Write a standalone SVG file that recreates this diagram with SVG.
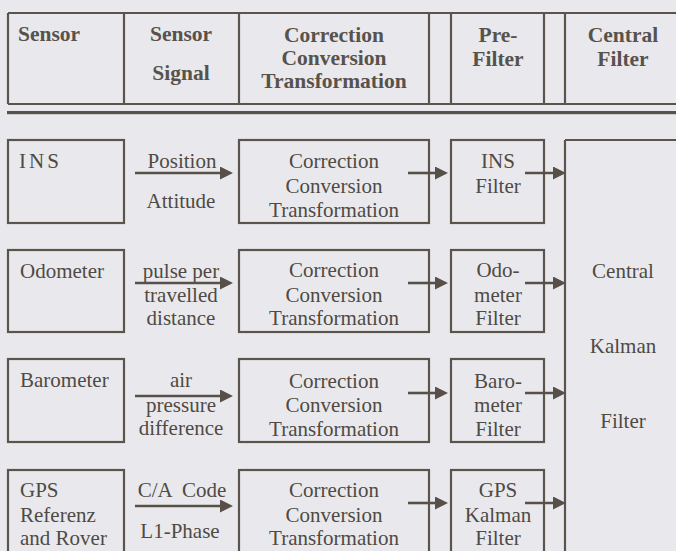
<svg xmlns="http://www.w3.org/2000/svg" width="676" height="551" viewBox="0 0 676 551">
<defs>
<marker id="ah" markerUnits="userSpaceOnUse" markerWidth="14" markerHeight="13" refX="5" refY="6.5" orient="auto">
<path d="M0,0 L13,6.5 L0,13 z" fill="#575049"/>
</marker>
<style>
.bx{fill:none;stroke:#5a544d;stroke-width:2.2}
.ln{stroke:#5a544d;stroke-width:2.2;fill:none}
.ar{stroke:#575049;stroke-width:2.6;fill:none;marker-end:url(#ah)}
.h{font-family:"Liberation Serif","Times New Roman",serif;font-weight:bold;font-size:21.5px;fill:#57524c;text-anchor:middle}
.t{font-family:"Liberation Serif","Times New Roman",serif;font-size:21px;fill:#4f4a44}
.c{text-anchor:middle}
</style>
</defs>
<rect width="676" height="551" fill="#e9e9ed"/>

<g id="header">
<path class="ln" d="M8,13 H680 M8,104 H680 M8,13 V104 M124,13 V104 M239,13 V104 M429,13 V104 M451,13 V104 M544,13 V104 M565,13 V104"/>
<rect x="7" y="111" width="675" height="3.2" fill="#57524c"/>
<text class="h" x="18" y="41" style="text-anchor:start">Sensor</text>
<text class="h" x="181" y="41">Sensor</text>
<text class="h" x="181" y="80">Signal</text>
<text class="h" x="334" y="42">Correction</text>
<text class="h" x="334" y="65">Conversion</text>
<text class="h" x="334" y="88">Transformation</text>
<text class="h" x="498" y="42">Pre-</text>
<text class="h" x="498" y="66">Filter</text>
<text class="h" x="623" y="42">Central</text>
<text class="h" x="623" y="66">Filter</text>
</g>

<g id="ins">
<rect class="bx" x="8" y="140" width="116" height="83"/>
<text class="t" x="19" y="168" letter-spacing="3">INS</text>
</g>
<g id="ins-signal">
<text class="t c" x="182" y="168">Position</text>
<text class="t c" x="181" y="208">Attitude</text>
</g>
<g id="ins-correction">
<rect class="bx" x="239" y="140" width="190" height="83"/>
<text class="t c" x="334" y="168">Correction</text>
<text class="t c" x="334" y="193">Conversion</text>
<text class="t c" x="334" y="217">Transformation</text>
</g>
<g id="ins-filter">
<rect class="bx" x="451" y="140" width="93" height="83"/>
<text class="t c" x="498" y="168">INS</text>
<text class="t c" x="498" y="193">Filter</text>
</g>

<g id="odometer">
<rect class="bx" x="8" y="250" width="116" height="82"/>
<text class="t" x="20" y="278">Odometer</text>
</g>
<g id="odometer-signal">
<text class="t c" x="181" y="278">pulse per</text>
<text class="t c" x="181" y="302">travelled</text>
<text class="t c" x="181" y="325">distance</text>
</g>
<g id="odometer-correction">
<rect class="bx" x="239" y="250" width="190" height="82"/>
<text class="t c" x="334" y="277">Correction</text>
<text class="t c" x="334" y="302">Conversion</text>
<text class="t c" x="334" y="325">Transformation</text>
</g>
<g id="odometer-filter">
<rect class="bx" x="451" y="250" width="93" height="82"/>
<text class="t c" x="498" y="277">Odo-</text>
<text class="t c" x="498" y="302">meter</text>
<text class="t c" x="498" y="325">Filter</text>
</g>

<g id="barometer">
<rect class="bx" x="8" y="359" width="116" height="83"/>
<text class="t" x="20" y="387">Barometer</text>
</g>
<g id="barometer-signal">
<text class="t c" x="181" y="387">air</text>
<text class="t c" x="181" y="412">pressure</text>
<text class="t c" x="181" y="435">difference</text>
</g>
<g id="barometer-correction">
<rect class="bx" x="239" y="359" width="190" height="83"/>
<text class="t c" x="334" y="388">Correction</text>
<text class="t c" x="334" y="412">Conversion</text>
<text class="t c" x="334" y="436">Transformation</text>
</g>
<g id="barometer-filter">
<rect class="bx" x="451" y="359" width="93" height="83"/>
<text class="t c" x="498" y="388">Baro-</text>
<text class="t c" x="498" y="412">meter</text>
<text class="t c" x="498" y="436">Filter</text>
</g>

<g id="gps">
<rect class="bx" x="8" y="470" width="116" height="90"/>
<text class="t" x="20" y="497">GPS</text>
<text class="t" x="20" y="522">Referenz</text>
<text class="t" x="20" y="545">and Rover</text>
</g>
<g id="gps-signal">
<text class="t c" x="182" y="497" xml:space="preserve">C/A  Code</text>
<text class="t c" x="180" y="538">L1-Phase</text>
</g>
<g id="gps-correction">
<rect class="bx" x="239" y="470" width="190" height="90"/>
<text class="t c" x="334" y="497">Correction</text>
<text class="t c" x="334" y="522">Conversion</text>
<text class="t c" x="334" y="545">Transformation</text>
</g>
<g id="gps-filter">
<rect class="bx" x="451" y="470" width="93" height="90"/>
<text class="t c" x="498" y="497">GPS</text>
<text class="t c" x="498" y="522">Kalman</text>
<text class="t c" x="498" y="545">Filter</text>
</g>

<g id="central-filter">
<path class="ln" d="M565,140 V560 M565,140 H680"/>
<text class="t c" x="623" y="278">Central</text>
<text class="t c" x="623" y="353">Kalman</text>
<text class="t c" x="623" y="428">Filter</text>
</g>

<g id="connectors">
<line class="ar" x1="135" y1="173" x2="225" y2="173"/>
<line class="ar" x1="408" y1="173" x2="440" y2="173"/>
<line class="ar" x1="525" y1="173" x2="558" y2="173"/>
<line class="ar" x1="135" y1="283" x2="225" y2="283"/>
<line class="ar" x1="408" y1="283" x2="440" y2="283"/>
<line class="ar" x1="525" y1="283" x2="558" y2="283"/>
<line class="ar" x1="135" y1="396" x2="225" y2="396"/>
<line class="ar" x1="408" y1="393" x2="440" y2="393"/>
<line class="ar" x1="525" y1="393" x2="558" y2="393"/>
<line class="ar" x1="135" y1="506" x2="225" y2="506"/>
<line class="ar" x1="408" y1="503" x2="440" y2="503"/>
<line class="ar" x1="525" y1="503" x2="558" y2="503"/>
</g>
</svg>
